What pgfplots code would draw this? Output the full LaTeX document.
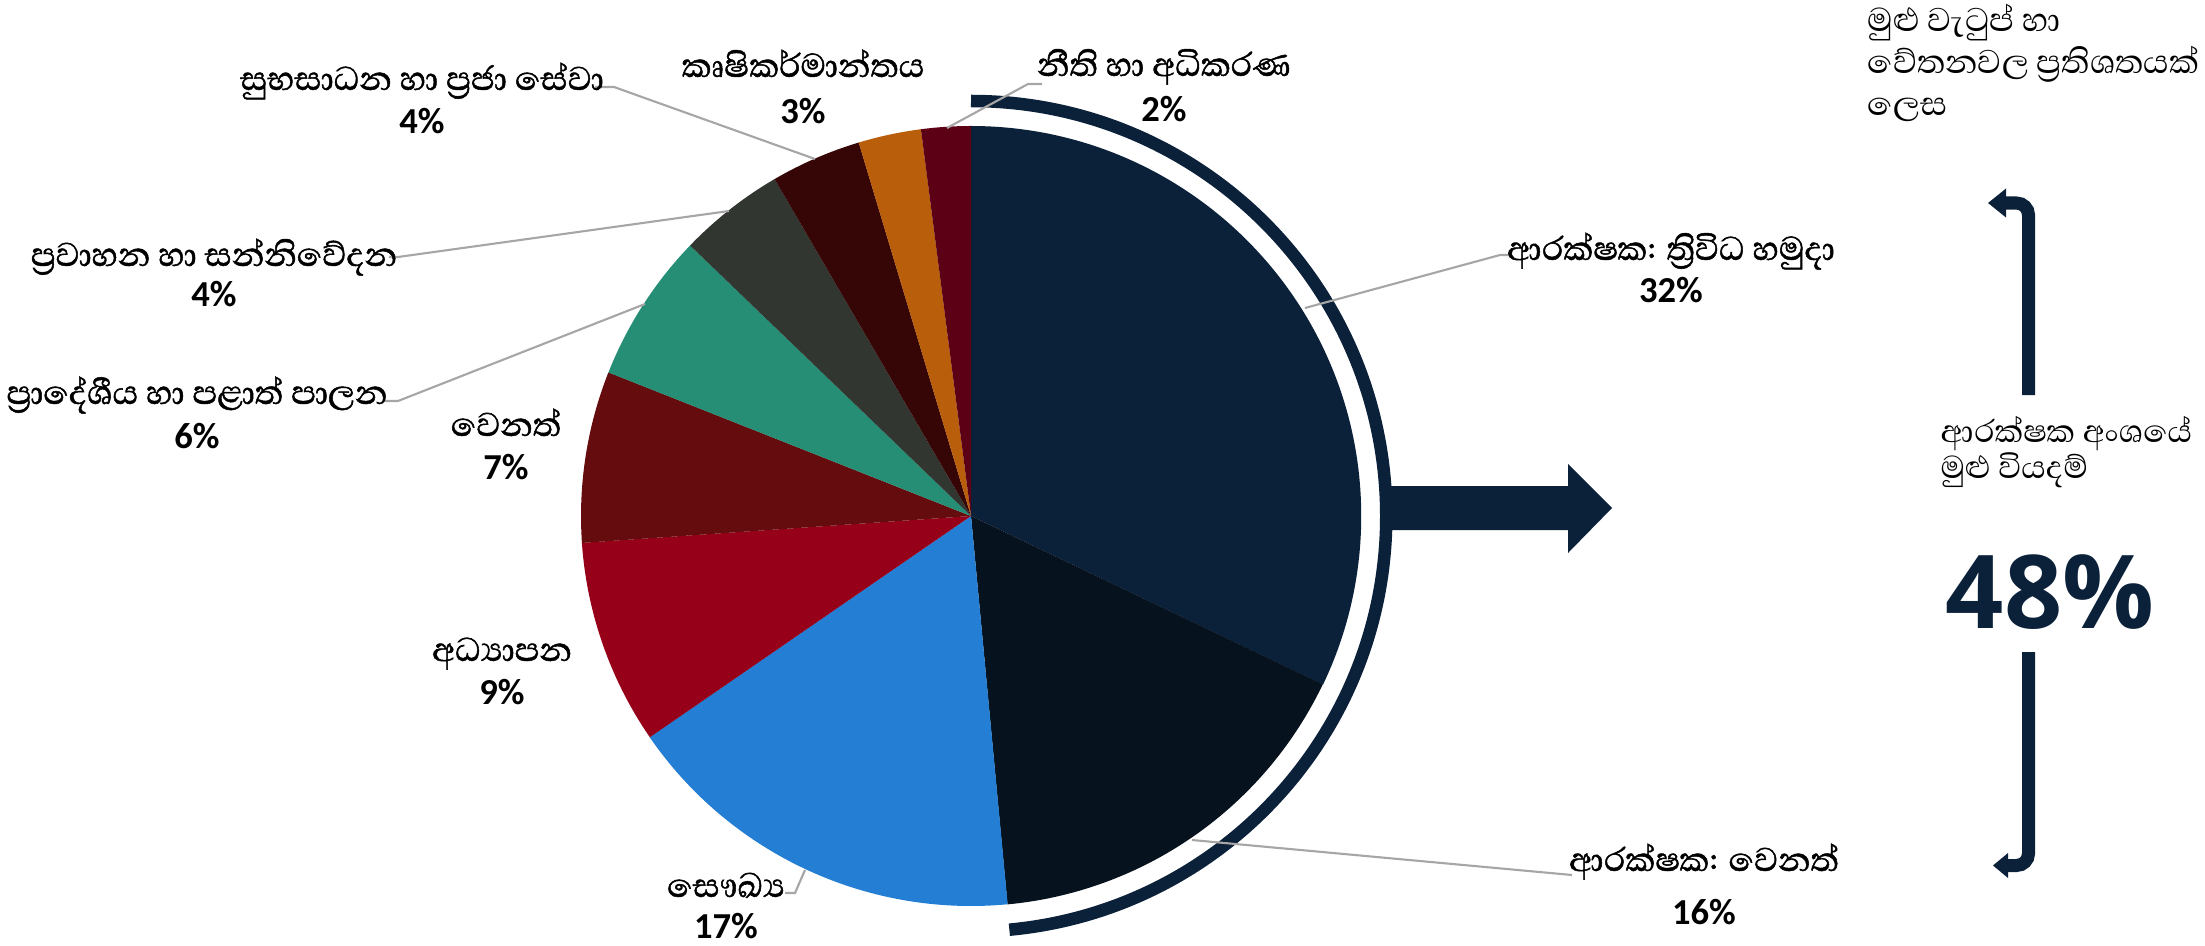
\documentclass[border=0pt]{standalone}
\usepackage{pgfplots}
\pgfplotsset{compat=1.18}
\usepackage{fontspec}
\newfontfamily\sinfont[Script=Sinhala]{Abhaya Libre}
\newfontfamily\sinfontb[Script=Sinhala, FakeBold=1.2]{Abhaya Libre}
\newfontfamily\pctfont{Carlito}
\newfontfamily\bigfont{Open Sans}
\definecolor{cA}{HTML}{0B2039}
\definecolor{cB}{HTML}{07121F}
\definecolor{cC}{HTML}{237ED4}
\definecolor{cD}{HTML}{970019}
\definecolor{cE}{HTML}{650C0E}
\definecolor{cF}{HTML}{278E76}
\definecolor{cG}{HTML}{323631}
\definecolor{cH}{HTML}{360606}
\definecolor{cI}{HTML}{B95E0B}
\definecolor{cJ}{HTML}{5C0015}
\definecolor{navy}{HTML}{0B2039}
\definecolor{lead}{HTML}{A6A6A6}
\newcommand{\lab}[1]{{\sinfontb\fontsize{12}{14}\selectfont #1}}
\newcommand{\pct}[1]{{\pctfont\bfseries\fontsize{10.4}{12}\selectfont #1}}
\begin{document}
\begin{tikzpicture}
\begin{axis}[
  x=0.01cm, y=0.01cm,
  xmin=-971, xmax=1234, ymin=-429, ymax=516,
  hide axis, clip=false, no markers,
]
\coordinate (SW) at (axis cs:-971,-429);
\coordinate (NE) at (axis cs:1234,516);
% pie slices: polar (angle, radius); shares 32.1,16.4,16.9,8.5,7.1,6.2,4.4,3.75,2.6,2.05 %
\addplot[fill=cA, draw=none, data cs=polar] coordinates {(0,0) (90,390)} arc[start angle=90, end angle=-25.56, radius=3.9cm] -- (axis cs:0,0) -- cycle;
\addplot[fill=cB, draw=none, data cs=polar] coordinates {(0,0) (-25.56,390)} arc[start angle=-25.56, end angle=-84.60, radius=3.9cm] -- (axis cs:0,0) -- cycle;
\addplot[fill=cC, draw=none, data cs=polar] coordinates {(0,0) (-84.60,390)} arc[start angle=-84.60, end angle=-145.44, radius=3.9cm] -- (axis cs:0,0) -- cycle;
\addplot[fill=cD, draw=none, data cs=polar] coordinates {(0,0) (-145.44,390)} arc[start angle=-145.44, end angle=-176.04, radius=3.9cm] -- (axis cs:0,0) -- cycle;
\addplot[fill=cE, draw=none, data cs=polar] coordinates {(0,0) (-176.04,390)} arc[start angle=-176.04, end angle=-201.60, radius=3.9cm] -- (axis cs:0,0) -- cycle;
\addplot[fill=cF, draw=none, data cs=polar] coordinates {(0,0) (-201.60,390)} arc[start angle=-201.60, end angle=-223.92, radius=3.9cm] -- (axis cs:0,0) -- cycle;
\addplot[fill=cG, draw=none, data cs=polar] coordinates {(0,0) (-223.92,390)} arc[start angle=-223.92, end angle=-239.76, radius=3.9cm] -- (axis cs:0,0) -- cycle;
\addplot[fill=cH, draw=none, data cs=polar] coordinates {(0,0) (-239.76,390)} arc[start angle=-239.76, end angle=-253.26, radius=3.9cm] -- (axis cs:0,0) -- cycle;
\addplot[fill=cI, draw=none, data cs=polar] coordinates {(0,0) (-253.26,390)} arc[start angle=-253.26, end angle=-262.62, radius=3.9cm] -- (axis cs:0,0) -- cycle;
\addplot[fill=cJ, draw=none, data cs=polar] coordinates {(0,0) (-262.62,390)} arc[start angle=-262.62, end angle=-270, radius=3.9cm] -- (axis cs:0,0) -- cycle;
% outer arc
\addplot[draw=navy, line width=0.125cm, data cs=polar] coordinates {(90,415)} arc[start angle=90, end angle=-84.7, radius=4.15cm];
% big arrow
\addplot[fill=navy, draw=none] coordinates {(418,30) (597,30) (597,52) (641,8) (597,-37) (597,-14) (418,-14)} -- cycle;
% brackets
\addplot[draw=navy, line width=0.13cm, rounded corners=0.12cm] coordinates {(1057.5,121) (1057.5,313) (1033,313)};
\addplot[fill=navy, draw=none] coordinates {(1035,327.5) (1017,313) (1035,298.5)} -- cycle;
\addplot[draw=navy, line width=0.13cm, rounded corners=0.12cm] coordinates {(1057.5,-136) (1057.5,-349.5) (1035,-349.5)};
\addplot[fill=navy, draw=none] coordinates {(1037,-337) (1022,-349.5) (1037,-362)} -- cycle;
% leader lines
\addplot[draw=lead, line width=0.6pt] coordinates {(334,208) (529,261) (538,261)};
\addplot[draw=lead, line width=0.6pt] coordinates {(221,-324) (601,-359)};
\addplot[draw=lead, line width=0.6pt] coordinates {(-186,-377) (-176,-377) (-166,-354)};
\addplot[draw=lead, line width=0.6pt] coordinates {(-587,115) (-573,115) (-326,212)};
\addplot[draw=lead, line width=0.6pt] coordinates {(-582,259) (-573,259) (-242,305)};
\addplot[draw=lead, line width=0.6pt] coordinates {(-376,429) (-357,429) (-156,357)};
\addplot[draw=lead, line width=0.6pt] coordinates {(-24,388) (57,432) (71,432)};
% labels
\node[anchor=base] at (axis cs:700,256) {\lab{ආරක්ෂක: ත්^^^^200dරිවිධ හමුදා}};
\node[anchor=base] at (axis cs:700,213.5) {\pct{32\%}};
\node[anchor=base] at (axis cs:733,-355) {\lab{ආරක්ෂක: වෙනත්}};
\node[anchor=base] at (axis cs:733,-408) {\pct{16\%}};
\node[anchor=base] at (axis cs:-245,-381) {\lab{සෞඛ්^^^^200dය}};
\node[anchor=base] at (axis cs:-245,-422.5) {\pct{17\%}};
\node[anchor=base] at (axis cs:-469,-145) {\lab{අධ්^^^^200dයාපන}};
\node[anchor=base] at (axis cs:-469,-188.5) {\pct{9\%}};
\node[anchor=base] at (axis cs:-465,80) {\lab{වෙනත්}};
\node[anchor=base] at (axis cs:-465,36.5) {\pct{7\%}};
\node[anchor=base] at (axis cs:-774,112) {\lab{ප්^^^^200dරාදේශීය හා පළාත් පාලන}};
\node[anchor=base] at (axis cs:-774,67.5) {\pct{6\%}};
\node[anchor=base] at (axis cs:-757,250) {\lab{ප්^^^^200dරවාහන හා සන්නිවේදන}};
\node[anchor=base] at (axis cs:-757,209.5) {\pct{4\%}};
\node[anchor=base] at (axis cs:-549,426) {\lab{සුභසාධන හා ප්^^^^200dරජා සේවා}};
\node[anchor=base] at (axis cs:-549,382.5) {\pct{4\%}};
\node[anchor=base] at (axis cs:-168,439) {\lab{කෘෂිකර්මාන්තය}};
\node[anchor=base] at (axis cs:-168,392.5) {\pct{3\%}};
\node[anchor=base] at (axis cs:193,440) {\lab{නීති හා අධිකරණ}};
\node[anchor=base] at (axis cs:193,394.5) {\pct{2\%}};
% right texts (base anchor = last line)
\node[anchor=base west, inner sep=0pt, align=left, font=\sinfont\fontsize{12}{11.95pt}\selectfont] at (axis cs:896,400) {මුළු වැටුප් හා\\වේතනවල ප්^^^^200dරතිශතයක්\\ලෙස};
\node[anchor=base west, inner sep=0pt, align=left, font=\sinfont\fontsize{11.5}{9.96pt}\selectfont] at (axis cs:969,38) {ආරක්ෂක අංශයේ\\මුළු වියදම්};
\node[anchor=base, inner sep=0pt, text=navy] at (axis cs:1079,-112) {\bigfont\bfseries\fontsize{29}{31}\selectfont 48\%};
\end{axis}
\pgfresetboundingbox
\useasboundingbox (SW) rectangle (NE);
\end{tikzpicture}
\end{document}
